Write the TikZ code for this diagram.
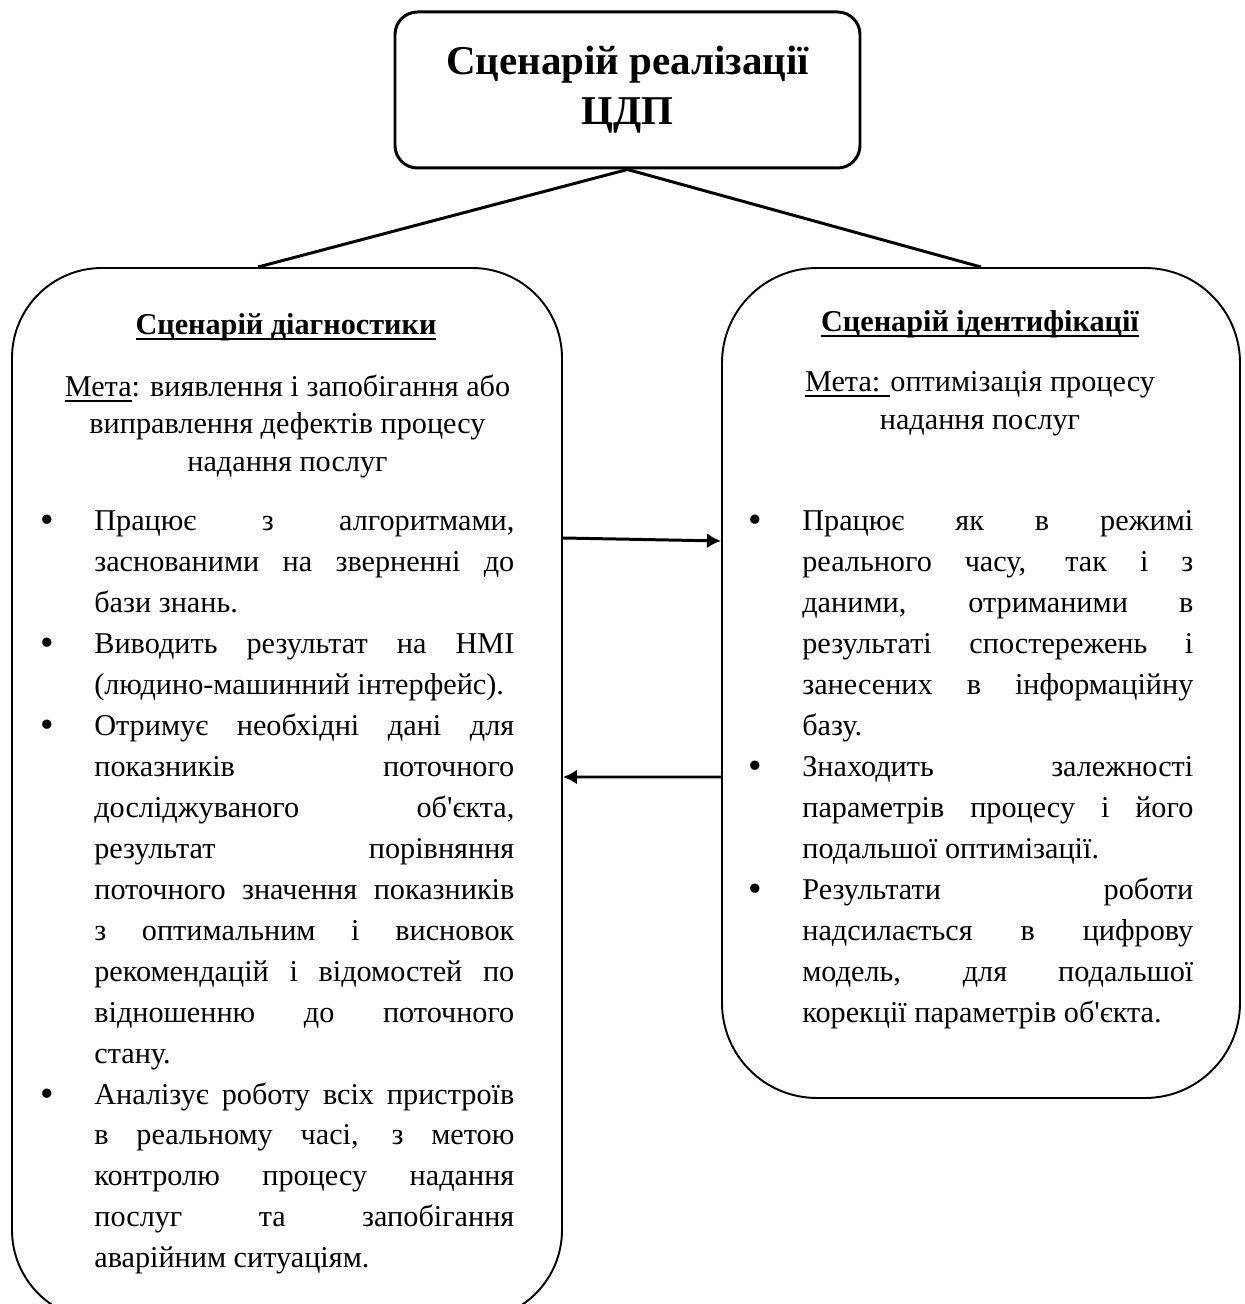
\documentclass[tikz,border=0pt]{standalone}
\usepackage{fontspec}
\setmainfont{Liberation Serif}
\usepackage{enumitem}
\usetikzlibrary{arrows.meta}

\newcommand{\uln}[1]{\setbox0\hbox{#1}\rlap{\rule[-0.11cm]{\wd0}{0.04cm}}\box0}
\newcommand{\bodyfont}{\fontsize{17.2pt}{23.3pt}\selectfont}
\newcommand{\goalfont}{\fontsize{17.2pt}{21.3pt}\selectfont}
\newcommand{\dotmark}{\fontsize{22pt}{22pt}\selectfont\raisebox{-0.04cm}{\textbullet}}

\begin{document}
\begin{tikzpicture}[
	  titlebox/.style={draw, line width=1.7pt, rounded corners=0.45cm, minimum width=9.3cm, minimum height=3.12cm, align=center, font=\fontsize{23.3pt}{28.4pt}\selectfont\bfseries},
	  casebox/.style={draw, line width=1.1pt, inner sep=0pt},
	  heading/.style={anchor=base, inner sep=0pt, font=\bodyfont\bfseries},
	  goal/.style={anchor=north, inner sep=0pt, align=center, font=\goalfont},
	  points/.style={anchor=north west, inner sep=0pt, align=justify, font=\bodyfont},
	  link/.style={line width=1.7pt},
	  flow/.style={line width=1.7pt, -{Latex[length=0.28cm,width=0.3cm]}},
	]
	\useasboundingbox (0,0) rectangle (24.9,26.08);
	\hyphenpenalty=10000 \exhyphenpenalty=10000 \tolerance=10000

	\node [titlebox] (root) at (12.55,24.28) {Сценарій реалізації\\ЦДП};
	\node [casebox, rounded corners=1.8cm, minimum width=11cm, minimum height=21.04cm] (diag) at (5.74,10.2) {};
	\node [casebox, rounded corners=1.9cm, minimum width=10.36cm, minimum height=16.6cm] (ident) at (19.62,12.42) {};

	\draw [link] (root.south) -- ([xshift=-0.58cm]diag.north);
	\draw [link] (root.south) -- (ident.north);

	\node [heading] (diaghead) at (5.72,19.38) {\uln{Сценарій діагностики}};
	\node [goal] (diaggoal) at (5.75,18.59) {\uln{Мета}: виявлення і запобігання або\\виправлення дефектів процесу\\надання послуг};
	\node [points, text width=9.44cm] (diagpts) at (0.84,16.29) {%
		\begin{itemize}[nosep, leftmargin=1.04cm, labelsep=0.81cm, label=\dotmark]
		\item Працює з алгоритмами,\linebreak заснованими на зверненні до\linebreak бази знань.
		\item Виводить результат на HMI\linebreak (людино-машинний інтерфейс).
		\item Отримує необхідні дані для\linebreak показників поточного\linebreak досліджуваного об\textquotesingle єкта,\linebreak результат порівняння\linebreak поточного значення показників\linebreak з оптимальним і висновок\linebreak рекомендацій і відомостей по\linebreak відношенню до поточного\linebreak стану.
		\item Аналізує роботу всіх пристроїв\linebreak в реальному часі, з метою\linebreak контролю процесу надання\linebreak послуг та запобігання\linebreak аварійним ситуаціям.
		\end{itemize}};

	\node [heading] (identhead) at (19.6,19.44) {\uln{Сценарій ідентифікації}};
	\node [goal] (identgoal) at (19.6,18.65) {\uln{Мета: }оптимізація процесу\\надання послуг};
	\node [points, text width=8.86cm] (identpts) at (15.0,16.29) {%
		\begin{itemize}[nosep, leftmargin=1.04cm, labelsep=0.81cm, label=\dotmark]
		\item Працює як в режимі\linebreak реального часу, так і з\linebreak даними, отриманими в\linebreak результаті спостережень і\linebreak занесених в інформаційну\linebreak базу.
		\item Знаходить залежності\linebreak параметрів процесу і його\linebreak подальшої оптимізації.
		\item Результати роботи\linebreak надсилається в цифрову\linebreak модель, для подальшої\linebreak корекції параметрів об\textquotesingle єкта.
		\end{itemize}};

	\draw [flow] ([yshift=5.12cm]diag.east) -- ([yshift=2.84cm]ident.west);
	\draw [flow] ([yshift=-1.88cm]ident.west) -- ([yshift=0.34cm]diag.east);
\end{tikzpicture}
\end{document}
